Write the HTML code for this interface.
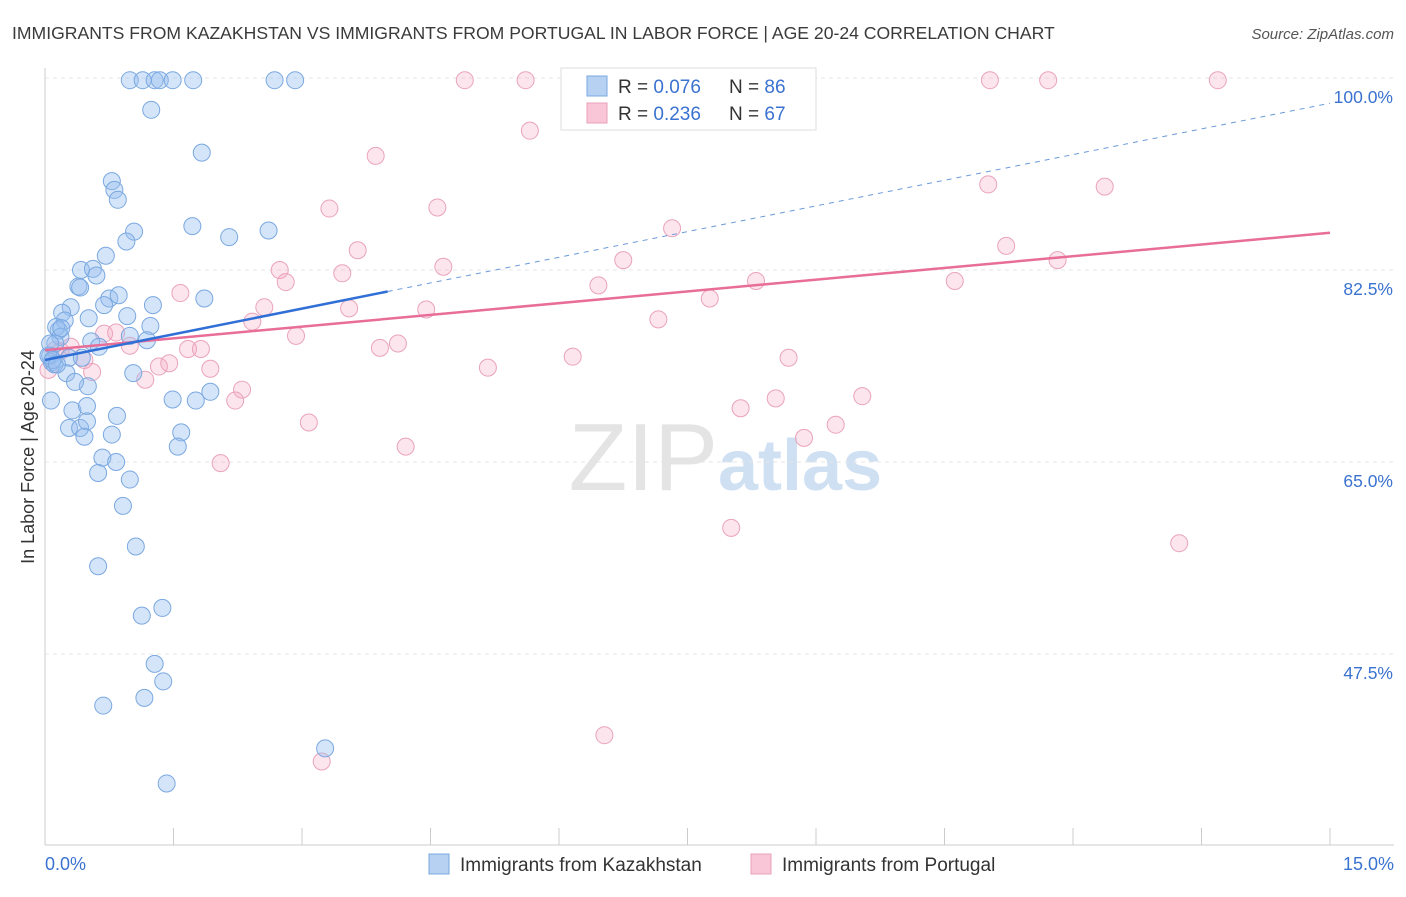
<!DOCTYPE html>
<html><head><meta charset="utf-8"><style>
body{margin:0;background:#fff;font-family:"Liberation Sans",sans-serif;}
svg text{font-family:"Liberation Sans",sans-serif;}
</style></head><body>
<svg id="chart" width="1406" height="892">
<text x="12" y="39" font-size="17.6" fill="#3a3a3a">IMMIGRANTS FROM KAZAKHSTAN VS IMMIGRANTS FROM PORTUGAL IN LABOR FORCE | AGE 20-24 CORRELATION CHART</text>
<text x="1394" y="39" font-size="15" fill="#555" text-anchor="end" font-style="italic">Source: ZipAtlas.com</text>
<text x="718" y="490" font-size="96" fill="#e4e4e4" text-anchor="end" font-family="Liberation Serif">ZIP</text>
<text x="718" y="490" font-size="72" fill="#cfe0f3" font-weight="bold">atlas</text>
<text transform="translate(34,457) rotate(-90)" font-size="18" fill="#333" text-anchor="middle">In Labor Force | Age 20-24</text>
<g id="grid"></g><g id="marks"></g>
<g>
<rect x="561" y="68" width="255" height="62" fill="#fff" stroke="#ddd"/>
<rect x="587" y="76" width="20" height="20" fill="#b7d1f3" stroke="#7aa8e0"/>
<text x="618" y="93" font-size="19" fill="#333">R = <tspan fill="#3a72d0">0.076</tspan></text>
<text x="729" y="93" font-size="19" fill="#333">N = <tspan fill="#3a72d0">86</tspan></text>
<rect x="587" y="103" width="20" height="20" fill="#f8c6d6" stroke="#e8a0b8"/>
<text x="618" y="120" font-size="19" fill="#333">R = <tspan fill="#3a72d0">0.236</tspan></text>
<text x="729" y="120" font-size="19" fill="#333">N = <tspan fill="#3a72d0">67</tspan></text>
</g>
<g>
<rect x="429" y="854" width="20" height="20" fill="#b7d1f3" stroke="#7aa8e0"/>
<text x="460" y="871" font-size="19" fill="#333">Immigrants from Kazakhstan</text>
<rect x="751" y="854" width="20" height="20" fill="#f8c6d6" stroke="#e8a0b8"/>
<text x="782" y="871" font-size="19" fill="#333">Immigrants from Portugal</text>
</g>
</svg>
<script>
const yTicks=[100,82.5,65,47.5];
const xTickLabels=["0.0%","15.0%"];
const kazX=[0.99,1.14,1.28,1.34,1.49,1.73,2.68,2.92,1.24,1.83,0.78,0.81,0.85,1.04,0.95,1.72,2.15,2.61,0.71,0.42,0.56,0.60,0.39,0.41,0.75,0.86,0.30,0.69,1.26,1.86,0.96,0.20,0.23,0.16,0.13,0.51,1.23,0.99,1.19,0.54,0.63,0.18,0.12,0.06,0.08,0.11,0.28,0.43,0.25,1.03,0.50,0.35,1.93,1.49,1.76,0.07,0.32,0.49,0.84,0.28,0.41,0.49,0.46,0.78,1.59,1.55,0.67,0.83,0.62,0.99,0.91,1.06,0.62,1.37,1.13,1.28,1.38,1.16,0.68,3.27,1.42,0.04,0.09,0.14,0.06,0.19];
const kazY=[99.8,99.8,99.8,99.8,99.8,99.8,99.8,99.8,97.1,93.2,90.6,89.8,88.9,86.0,85.1,86.5,85.5,86.1,83.8,82.5,82.6,82.0,81.0,80.9,79.9,80.2,79.1,79.3,79.3,79.9,78.3,78.6,77.9,77.0,77.3,78.1,77.4,76.5,76.1,76.0,75.5,76.4,75.8,74.7,74.1,73.9,74.5,74.5,73.1,73.1,71.9,72.3,71.4,70.7,70.6,70.6,69.7,70.1,69.2,68.1,68.1,68.7,67.3,67.5,67.7,66.4,65.4,65.0,64.0,63.4,61.0,57.3,55.5,51.7,51.0,46.6,45.0,43.5,42.8,38.9,35.7,74.7,74.3,73.9,75.8,77.2];
const porX=[4.90,5.61,6.13,6.97,11.03,11.71,13.69,5.66,3.86,11.01,12.37,3.32,4.58,7.32,3.65,11.22,2.74,6.75,4.65,2.81,3.47,6.46,8.30,10.62,11.82,1.58,2.56,3.55,4.45,7.76,2.42,7.16,2.93,0.69,0.83,0.99,3.91,4.12,1.67,1.82,0.30,0.18,0.46,6.16,8.68,1.33,1.45,0.55,1.93,5.17,0.04,1.17,2.30,2.22,8.53,9.54,8.12,3.08,9.23,8.86,4.21,2.05,8.01,13.24,6.53,3.23,0.12];
const porY=[99.8,99.8,99.8,99.8,99.8,99.8,99.8,95.2,92.9,90.3,90.1,88.1,88.2,86.3,84.3,84.7,82.5,83.4,82.8,81.4,82.2,81.1,81.5,81.5,83.4,80.4,79.1,79.0,78.9,79.9,77.8,78.0,76.5,76.7,76.8,75.6,75.4,75.8,75.3,75.3,75.5,75.1,74.3,74.6,74.5,73.7,74.0,73.2,73.5,73.6,73.4,72.5,71.6,70.6,70.8,71.0,69.9,68.6,68.4,67.2,66.4,64.9,59.0,57.6,40.1,37.7,75.2];
const kazTrend=[74.3,1.56];
const porTrend=[75.2,0.713];
const NS="http://www.w3.org/2000/svg";
const xs=v=>45+v*(1285/15);
const ys=v=>78+(100-v)*(192/17.5);
function mk(tag,attrs,parent){const e=document.createElementNS(NS,tag);for(const k in attrs)e.setAttribute(k,attrs[k]);parent.appendChild(e);return e;}
const grid=document.getElementById('grid'),marks=document.getElementById('marks');
yTicks.forEach(t=>{
 const l=mk('line',{x1:45,x2:1394,y1:ys(t),y2:ys(t),stroke:'#e4e4e4','stroke-dasharray':'4,4'},grid);
 
 
 const tx=mk('text',{x:1393,y:ys(t)+25,'font-size':17.5,fill:'#3a72d0','text-anchor':'end'},grid);
 tx.textContent=t.toFixed(1)+'%';
 
 
});
const ax=mk('line',{x1:45,x2:1394,y1:845,y2:845,stroke:'#ccc'},grid);


const ay=mk('line',{x1:45,x2:45,y1:68,y2:845,stroke:'#ccc'},grid);


for(let i=0;i<=10;i++){const v=i*1.5;
 const t=mk('line',{x1:xs(v),x2:xs(v),y1:828,y2:845,stroke:'#ccc'},grid);
 
 }
[[0,'start'],[15,'end']].forEach((p,i)=>{
 const tx=mk('text',{x:i?1394:45,y:870,'font-size':18,fill:'#3a72d0','text-anchor':p[1]},grid);
 tx.textContent=xTickLabels[i];
 
 });
function dots(X,Y,fill,stroke,name){X.forEach((x,i)=>{
 const c=mk('circle',{cx:xs(x),cy:ys(Y[i]),r:8.5,fill:fill,stroke:stroke,'stroke-width':1},marks);
 
 });}
dots(porX,porY,'rgba(244,170,196,0.3)','#eaa3bc','portugal-point');
dots(kazX,kazY,'rgba(150,190,240,0.4)','#7aa8e0','kazakhstan-point');
const ps=mk('line',{x1:xs(0),y1:ys(porTrend[0]),x2:xs(15),y2:ys(porTrend[0]+15*porTrend[1]),stroke:'#e86d98','stroke-width':2.5},marks);


const kd=mk('line',{x1:xs(4),y1:ys(kazTrend[0]+4*kazTrend[1]),x2:xs(15),y2:ys(kazTrend[0]+15*kazTrend[1]),stroke:'#6a9ad8','stroke-width':1,'stroke-dasharray':'5,5'},marks);


const ks=mk('line',{x1:xs(0),y1:ys(kazTrend[0]),x2:xs(4),y2:ys(kazTrend[0]+4*kazTrend[1]),stroke:'#2f6fd6','stroke-width':2.5},marks);


</script>
</body></html>
